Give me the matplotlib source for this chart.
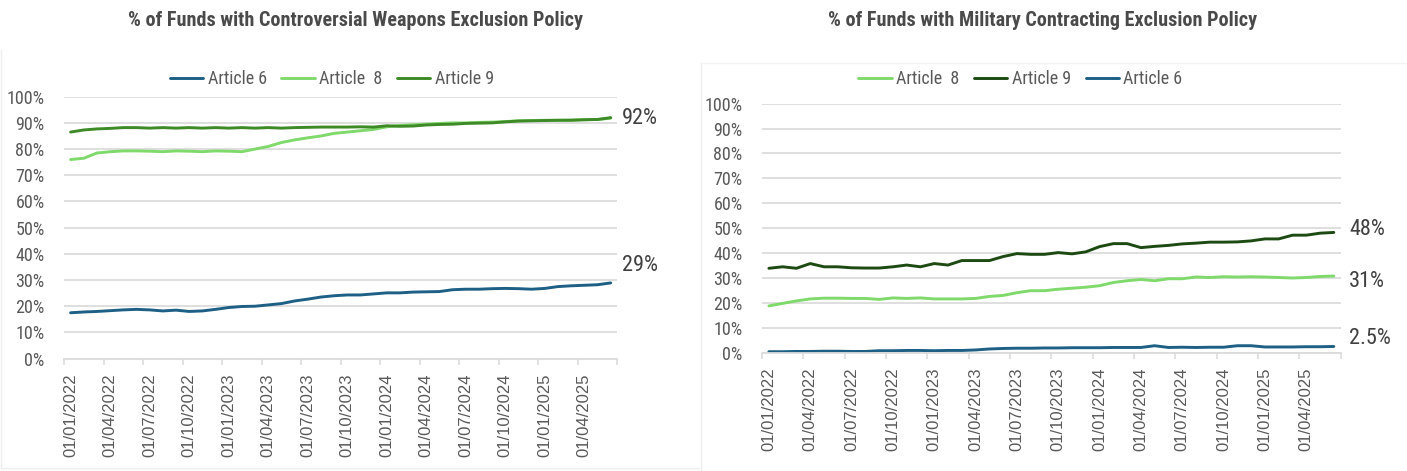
import matplotlib
matplotlib.use("Agg")
import matplotlib.pyplot as plt
from matplotlib import font_manager as fm
from matplotlib.lines import Line2D
import os

# ---------------- data ----------------
dates = ["01/01/2022", "01/04/2022", "01/07/2022", "01/10/2022",
         "01/01/2023", "01/04/2023", "01/07/2023", "01/10/2023",
         "01/01/2024", "01/04/2024", "01/07/2024", "01/10/2024",
         "01/01/2025", "01/04/2025"]
n_months = 42  # monthly points, Jan 2022 .. Jun 2025

cw_art6 = [17.5, 17.8, 18.0, 18.3, 18.6, 18.8, 18.6, 18.2, 18.5, 18.0,
           18.2, 18.8, 19.5, 19.9, 20.0, 20.5, 21.0, 22.0, 22.7, 23.5,
           24.0, 24.3, 24.3, 24.7, 25.1, 25.1, 25.4, 25.5, 25.6, 26.3,
           26.5, 26.5, 26.7, 26.8, 26.7, 26.5, 26.8, 27.5, 27.8, 28.0,
           28.2, 28.9]
cw_art8 = [76.0, 76.5, 78.5, 79.0, 79.3, 79.3, 79.2, 79.0, 79.3, 79.2,
           79.0, 79.3, 79.2, 79.0, 80.0, 81.0, 82.5, 83.5, 84.3, 85.0,
           86.0, 86.5, 87.0, 87.5, 88.5, 89.0, 89.3, 89.5, 89.8, 90.0,
           90.0, 90.2, 90.3, 90.5, 90.8, 90.9, 91.0, 91.0, 91.1, 91.2,
           91.3, 91.8]
cw_art9 = [86.5, 87.3, 87.7, 87.9, 88.2, 88.2, 88.0, 88.2, 88.0, 88.2,
           88.0, 88.2, 88.0, 88.2, 88.0, 88.2, 88.0, 88.2, 88.3, 88.4,
           88.4, 88.4, 88.5, 88.4, 88.9, 88.7, 88.8, 89.2, 89.4, 89.5,
           89.8, 89.9, 90.0, 90.4, 90.7, 90.8, 90.9, 91.0, 91.0, 91.2,
           91.3, 92.0]

mc_art8 = [18.8, 19.8, 20.8, 21.6, 21.9, 21.9, 21.8, 21.8, 21.4, 22.0,
           21.8, 22.0, 21.6, 21.6, 21.6, 21.8, 22.6, 23.0, 24.1, 24.9,
           24.9, 25.5, 25.9, 26.3, 26.9, 28.2, 28.9, 29.4, 28.9, 29.7,
           29.7, 30.4, 30.2, 30.5, 30.4, 30.5, 30.4, 30.2, 30.0, 30.2,
           30.6, 30.8]
mc_art9 = [33.9, 34.5, 33.9, 35.8, 34.5, 34.5, 34.1, 34.0, 34.0, 34.5,
           35.2, 34.5, 35.8, 35.2, 37.0, 37.0, 37.0, 38.6, 39.8, 39.5,
           39.5, 40.2, 39.7, 40.5, 42.6, 43.8, 43.8, 42.2, 42.7, 43.1,
           43.7, 44.0, 44.4, 44.4, 44.5, 44.9, 45.7, 45.7, 47.2, 47.2,
           48.0, 48.3]
mc_art6 = [0.4, 0.4, 0.5, 0.5, 0.6, 0.6, 0.5, 0.5, 0.8, 0.8,
           0.9, 0.9, 0.8, 0.9, 0.9, 1.1, 1.5, 1.7, 1.8, 1.8,
           1.9, 1.9, 2.0, 2.0, 2.0, 2.1, 2.1, 2.1, 2.8, 2.1,
           2.2, 2.1, 2.2, 2.2, 2.8, 2.8, 2.3, 2.3, 2.3, 2.4,
           2.4, 2.5]

cw_labels = ["92%", "29%"]
mc_labels = ["48%", "31%", "2.5%"]
titles = ["% of Funds with Controversial Weapons Exclusion Policy",
          "% of Funds with Military Contracting Exclusion Policy"]

# ---------------- fonts ----------------
def find_font(cands):
    files = [f.fname for f in fm.fontManager.ttflist]
    for c in cands:
        for f in files:
            if os.path.basename(f).lower() == c.lower():
                return fm.FontProperties(fname=f)
    return None

reg = find_font(["RobotoCondensed-Regular.ttf", "NotoSans-Condensed.ttf",
                 "LiberationSansNarrow-Regular.ttf", "DejaVuSansCondensed.ttf"])
bold = find_font(["RobotoCondensed-Bold.ttf", "NotoSans-CondensedBold.ttf",
                  "LiberationSansNarrow-Bold.ttf", "DejaVuSansCondensed-Bold.ttf"])
if reg is None:
    reg = fm.FontProperties(family="Roboto")
if bold is None:
    bold = fm.FontProperties(family="Roboto", weight="bold")

def fp(base, size):
    p = base.copy()
    p.set_size(size)
    return p

arial = fm.FontProperties(family=["Liberation Sans", "DejaVu Sans"], size=12)

# ---------------- colours ----------------
C6 = "#1d5f85"
C8 = "#7fd96b"
C9L = "#3d8a26"
C9R = "#1c4a12"
GRID = "#dcdcdc"
TXT = "#595959"
LBL = "#404040"

W, H = 1407, 471
fig = plt.figure(figsize=(W / 100, H / 100), dpi=100)

def px_axes(x0, x1, ytop, ybot):
    return fig.add_axes([x0 / W, 1 - ybot / H, (x1 - x0) / W, (ybot - ytop) / H])

ax1 = px_axes(64.0, 617.3, 96.7, 358.6)
ax2 = px_axes(762.0, 1340.7, 103.7, 352.7)

x = list(range(n_months))

def style(ax):
    ax.set_xlim(-0.5, n_months - 0.5)
    ax.set_ylim(0, 100)
    ax.set_yticks(range(0, 101, 10))
    ax.set_yticklabels([f"{v}%" for v in range(0, 101, 10)], fontproperties=fp(reg, 13), color=TXT)
    ax.yaxis.grid(True, color=GRID, linewidth=1.3)
    ax.set_axisbelow(True)
    for s in ["left", "right", "top"]:
        ax.spines[s].set_visible(False)
    ax.spines["bottom"].set_color(GRID)
    ax.spines["bottom"].set_linewidth(1.3)
    ax.tick_params(axis="y", length=0, pad=14)
    ax.set_xticks([i * 3 for i in range(len(dates))])
    ax.set_xticklabels(dates, rotation=90, fontproperties=arial, color=TXT)
    ax.tick_params(axis="x", length=0, pad=10.5)
    ax.set_xticks([i - 0.5 for i in range(0, n_months + 1, 3)], minor=True)
    ax.tick_params(axis="x", which="minor", length=4.5, width=1.2, color=GRID)

style(ax1)
style(ax2)

lw = 2.1
ax1.plot(x, cw_art6, color=C6, lw=lw, label="Article 6", solid_capstyle="round")
ax1.plot(x, cw_art8, color=C8, lw=lw, label="Article  8", solid_capstyle="round")
ax1.plot(x, cw_art9, color=C9L, lw=lw, label="Article 9", solid_capstyle="round")

ax2.plot(x, mc_art8, color=C8, lw=lw, label="Article  8", solid_capstyle="round")
ax2.plot(x, mc_art9, color=C9R, lw=lw, label="Article 9", solid_capstyle="round")
ax2.plot(x, mc_art6, color=C6, lw=lw, label="Article 6", solid_capstyle="round")

for ax, cx in [(ax1, 332), (ax2, 1020.5)]:
    leg = ax.legend(loc="center", bbox_to_anchor=(cx / W, 1 - 79 / H),
                    bbox_transform=fig.transFigure, ncol=3, frameon=False,
                    prop=fp(reg, 13), handlelength=1.85, handletextpad=0.25,
                    columnspacing=0.8, borderaxespad=0, borderpad=0)
    for t in leg.get_texts():
        t.set_color(TXT)

# end-of-line value labels
endfont = fp(reg, 16)
for txt, xx, yy in [(cw_labels[0], 622, 118), (cw_labels[1], 622, 265.7),
                    (mc_labels[0], 1349, 229.3), (mc_labels[1], 1349, 281.7),
                    (mc_labels[2], 1349, 338.3)]:
    fig.text(xx / W, 1 - yy / H, txt, fontproperties=endfont, color=LBL, va="center", ha="left")

# titles
fig.text(355 / W, 1 - 20.5 / H, titles[0], fontproperties=fp(bold, 14.5), color="#4a4a4a", ha="center", va="center")
fig.text(1043 / W, 1 - 20.5 / H, titles[1], fontproperties=fp(bold, 14.5), color="#4a4a4a", ha="center", va="center")

# faint chart-area borders
fig.add_artist(Line2D([701 / W, 701 / W], [0, 1 - 63 / H], transform=fig.transFigure, color="#eeeeee", lw=1))
fig.add_artist(Line2D([701 / W, 1], [1 - 63 / H, 1 - 63 / H], transform=fig.transFigure, color="#f4f4f4", lw=1))
fig.add_artist(Line2D([1 / W, 1 / W], [1 - 468 / H, 1 - 50 / H], transform=fig.transFigure, color="#eeeeee", lw=1))
fig.add_artist(Line2D([1 / W, 699 / W], [1 - 468 / H, 1 - 468 / H], transform=fig.transFigure, color="#eeeeee", lw=1))

fig.savefig("out.png", dpi=100, facecolor="white")
